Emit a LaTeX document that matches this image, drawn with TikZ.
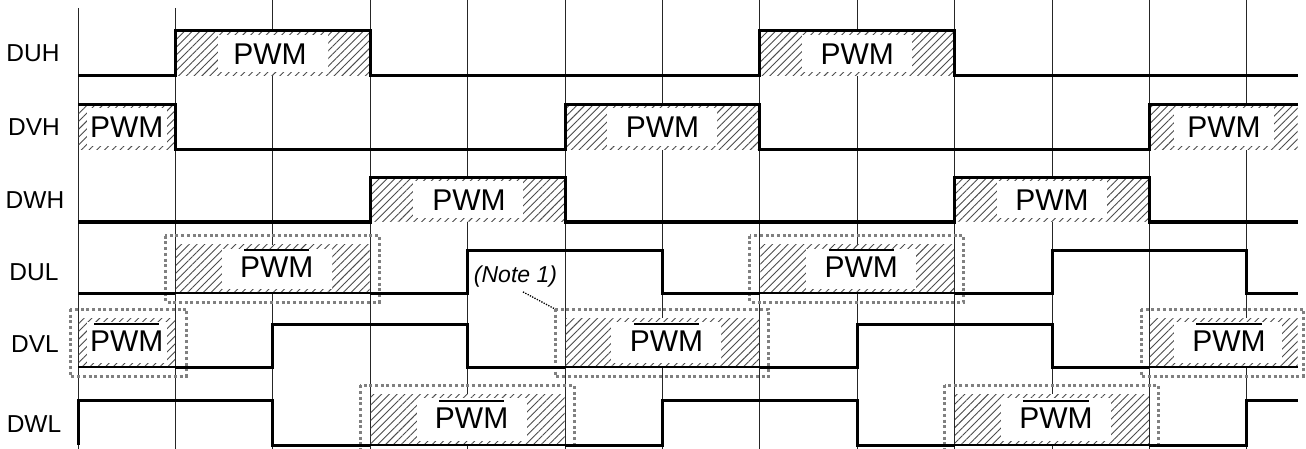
\documentclass[tikz,border=0pt]{standalone}
\usepackage{fontspec}
\setmainfont{Liberation Sans}
\usetikzlibrary{patterns.meta}
\newcommand\ovl[1]{\setbox0\hbox{#1}\vbox{\offinterlineskip\hbox to\wd0{\hskip4pt\leaders\hrule height1.5pt\hfill\hskip4pt}\kern6pt\box0}}
% xa xb top bottom cx w
\newcommand\hreg[6]{%
  \fill[white] (#1+0.5,#3) rectangle (#2-0.5,#4);
  \fill[hatch] (#1+0.5,#3) rectangle (#2-0.5,#4);
  \fill[white] (#5-#6/2,#3+4) rectangle (#5+#6/2,#4-4);}
\begin{document}
\begin{tikzpicture}[x=1pt,y=-1pt,
  grid/.style={draw=black!85,line width=0.9pt},
  hatch/.style={pattern={Lines[angle=45,distance=5.5pt,line width=0.9pt]},pattern color=black!70},
  dotbox/.style={draw=black!50,line width=3pt,dash pattern=on 3pt off 2.7pt},
  sig/.style={line width=3pt,line join=miter},
  sigthin/.style={line width=2pt},
  pwm/.style={font=\fontsize{30}{36}\selectfont,inner sep=0pt,anchor=base},
  lbl/.style={font=\fontsize{24.5}{28}\selectfont,inner sep=0pt},
  notetxt/.style={font=\fontsize{23}{28}\selectfont\itshape,inner sep=0pt},
  leader/.style={line width=1.3pt,dash pattern=on 1.3pt off 1.3pt}]
\useasboundingbox (0,0) rectangle (1306,449);
% grid lines
\draw[grid] (78,8) -- (78,449);
\draw[grid] (175.4,8) -- (175.4,449);
\foreach \k in {2,...,12}{\draw[grid] (78+97.4*\k,0) -- (78+97.4*\k,449);}
% labels
\node[lbl] (lDUH) at (33,53.4) {DUH};
\node[lbl] (lDVH) at (34,127.2) {DVH};
\node[lbl] (lDWH) at (35,199.7) {DWH};
\node[lbl] (lDUL) at (34,271.9) {DUL};
\node[lbl] (lDVL) at (35,344) {DVL};
\node[lbl] (lDWL) at (34,424) {DWL};
% upper PWM regions
\hreg{175.4}{370.2}{30.7}{76}{272.8}{110}
\hreg{759.8}{954.6}{30.7}{76}{857.2}{110}
\hreg{78}{175.4}{104.3}{150}{126.7}{80}
\hreg{565}{759.8}{104.3}{150}{662.4}{110}
\hreg{1149.4}{1298}{104.3}{150}{1224}{100}
\hreg{370.2}{565}{177.3}{222}{467.6}{110}
\hreg{954.6}{1149.4}{177.3}{222}{1052}{110}
% lower PWM regions
\hreg{175.4}{370.2}{244.7}{293}{276.8}{110}
\hreg{759.8}{954.6}{244.7}{293}{861.2}{110}
\hreg{78}{175.4}{318}{367}{126.7}{80}
\hreg{565}{759.8}{318}{367}{666.4}{110}
\hreg{1149.4}{1298}{318}{367}{1228}{108}
\hreg{370.2}{565}{394.3}{445}{471.6}{110}
\hreg{954.6}{1149.4}{394.3}{445}{1056}{110}
% PWM texts
\node[pwm] (p1) at (270,64.1) {PWM};
\node[pwm] (p2) at (857.2,64.1) {PWM};
\node[pwm] (p3) at (126.7,137.9) {PWM};
\node[pwm] (p4) at (662.4,137.9) {PWM};
\node[pwm] (p5) at (1224,137.9) {PWM};
\node[pwm] (p6) at (469,210.4) {PWM};
\node[pwm] (p7) at (1052,210.4) {PWM};
\node[pwm] (q1) at (276.8,277.6) {\ovl{PWM}};
\node[pwm] (q2) at (861.2,277.6) {\ovl{PWM}};
\node[pwm] (q3) at (126.7,351.2) {\ovl{PWM}};
\node[pwm] (q4) at (666.4,351.2) {\ovl{PWM}};
\node[pwm] (q5) at (1229,351.2) {\ovl{PWM}};
\node[pwm] (q6) at (471.6,428.4) {\ovl{PWM}};
\node[pwm] (q7) at (1056,428.4) {\ovl{PWM}};
% dotted boxes
\draw[dotbox] (165.4,235.7) rectangle (379.2,302);
\draw[dotbox] (749.8,235.7) rectangle (963.6,302);
\draw[dotbox] (70,309) rectangle (186.5,376);
\draw[dotbox] (555,309) rectangle (768.8,376);
\draw[dotbox] (1141,309) rectangle (1303,376);
\draw[dotbox] (360.2,385.3) rectangle (574,454);
\draw[dotbox] (944.6,385.3) rectangle (1158.4,454);
% signals
\draw[sig] (78,76) -- (175.4,76) -- (175.4,30.7) -- (370.2,30.7) -- (370.2,76) -- (759.8,76) -- (759.8,30.7) -- (954.6,30.7) -- (954.6,76) -- (1298,76);
\draw[sig] (78,104.3) -- (175.4,104.3) -- (175.4,150) -- (565,150) -- (565,104.3) -- (759.8,104.3) -- (759.8,150) -- (1149.4,150) -- (1149.4,104.3) -- (1298,104.3);
\draw[sig] (78,222) -- (370.2,222) -- (370.2,177.3) -- (565,177.3) -- (565,222) -- (954.6,222) -- (954.6,177.3) -- (1149.4,177.3) -- (1149.4,222) -- (1298,222);
\draw[sig] (78,293) -- (175.4,293);
\draw[sigthin] (175.4,293) -- (370.2,293);
\draw[sig] (370.2,293) -- (467.6,293) -- (467.6,250.7) -- (662.4,250.7) -- (662.4,293) -- (759.8,293);
\draw[sigthin] (759.8,293) -- (954.6,293);
\draw[sig] (954.6,293) -- (1052,293) -- (1052,250.7) -- (1246.8,250.7) -- (1246.8,293) -- (1298,293);
\draw[sigthin] (78,367) -- (175.4,367);
\draw[sig] (175.4,367) -- (272.8,367) -- (272.8,324) -- (467.6,324) -- (467.6,367) -- (565,367);
\draw[sigthin] (565,367) -- (759.8,367);
\draw[sig] (759.8,367) -- (857.2,367) -- (857.2,324) -- (1052,324) -- (1052,367) -- (1149.4,367);
\draw[sigthin] (1149.4,367) -- (1298,367);
\draw[sig] (78,445) -- (78,400.3) -- (272.8,400.3) -- (272.8,445) -- (370.2,445);
\draw[sigthin] (370.2,445) -- (565,445);
\draw[sig] (565,445) -- (662.4,445) -- (662.4,400.3) -- (857.2,400.3) -- (857.2,445) -- (954.6,445);
\draw[sigthin] (954.6,445) -- (1149.4,445);
\draw[sig] (1149.4,445) -- (1246.8,445) -- (1246.8,400.3) -- (1298,400.3);
% note
\node[notetxt] (note) at (515.5,277) {(Note 1)};
\coordinate (noteend) at (555,309);
\draw[leader] ([xshift=7.5pt,yshift=-4pt]note.south) -- (noteend);
\end{tikzpicture}
\end{document}
